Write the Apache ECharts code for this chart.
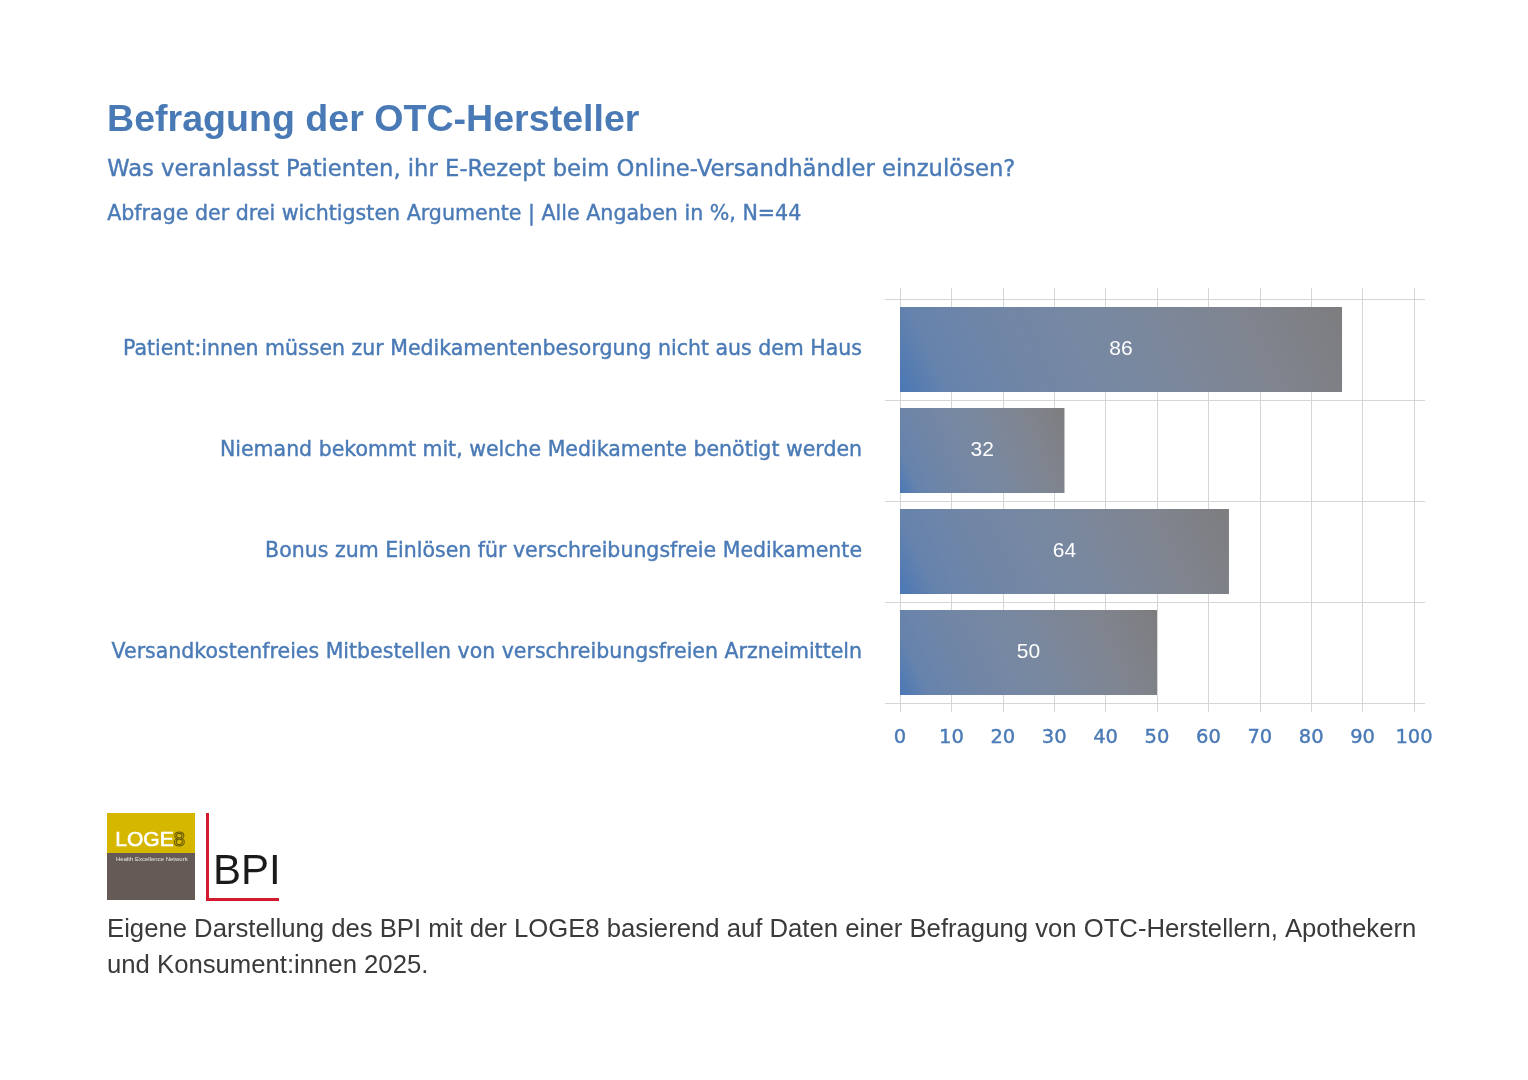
<!DOCTYPE html>
<html>
<head>
<meta charset="utf-8">
<script src="https://cdn.jsdelivr.net/npm/echarts@6/dist/echarts.min.js"></script>
<style>
html,body{margin:0;padding:0;background:#fff;}
#chart{width:1528px;height:1080px;}
</style>
</head>
<body>
<div id="chart"></div>
<script>
const categories = [
  'Patient:innen müssen zur Medikamentenbesorgung nicht aus dem Haus',
  'Niemand bekommt mit, welche Medikamente benötigt werden',
  'Bonus zum Einlösen für verschreibungsfreie Medikamente',
  'Versandkostenfreies Mitbestellen von verschreibungsfreien Arzneimitteln'
];
const values = [86, 32, 64, 50];
const xTicks = [0, 10, 20, 30, 40, 50, 60, 70, 80, 90, 100];
const titleText = 'Befragung der OTC-Hersteller';
const subtitleText = 'Was veranlasst Patienten, ihr E-Rezept beim Online-Versandhändler einzulösen?';
const noteText = 'Abfrage der drei wichtigsten Argumente | Alle Angaben in %, N=44';
const footerLines = [
  'Eigene Darstellung des BPI mit der LOGE8 basierend auf Daten einer Befragung von OTC-Herstellern, Apothekern',
  'und Konsument:innen 2025.'
];

const BLUE = '#4a7ab6';
const FONT = '"Liberation Sans", Arial, Helvetica, sans-serif';
const FONT2 = '"DejaVu Sans", "Liberation Sans", sans-serif';
const BAR_H = 85;
const GRAD_ANGLE = 25 * Math.PI / 180;

const chart = echarts.init(document.getElementById('chart'));

const stops = [
  { offset: 0, color: '#4a78b5' },
  { offset: 0.1, color: '#6683ad' },
  { offset: 0.27, color: '#7186a6' },
  { offset: 0.5, color: '#7888a0' },
  { offset: 0.8, color: '#80848e' },
  { offset: 1, color: '#7d7d7f' }
];

chart.setOption({
  backgroundColor: '#ffffff',
  animation: false,
  grid: [
    { left: 900, right: 114, top: 288, bottom: 368 },
    { left: 885, right: 103, top: 299, bottom: 377 },
    { left: 900, right: 114, top: 299, bottom: 377 }
  ],
  xAxis: [
    {
      gridIndex: 0, type: 'value', min: xTicks[0], max: xTicks[xTicks.length - 1], interval: 10,
      axisLine: { show: false }, axisTick: { show: false },
      splitLine: { show: true, lineStyle: { color: '#d6d6d6', width: 1 } },
      axisLabel: { color: BLUE, fontSize: 19.5, fontFamily: FONT2, margin: 16,
        textBorderColor: BLUE, textBorderWidth: 0.4 }
    },
    { gridIndex: 1, type: 'value', min: 0, max: 100, show: false },
    { gridIndex: 2, type: 'value', min: 0, max: 100, show: false }
  ],
  yAxis: [
    { gridIndex: 0, type: 'category', data: categories, show: false },
    {
      gridIndex: 1, type: 'category', data: categories, inverse: true,
      axisLine: { show: false }, axisTick: { show: false },
      splitLine: { show: true, lineStyle: { color: '#d6d6d6', width: 1 } },
      axisLabel: { color: BLUE, fontSize: 20.5, fontFamily: FONT2, margin: 23,
        textBorderColor: BLUE, textBorderWidth: 0.4 }
    },
    { gridIndex: 2, type: 'category', data: categories, inverse: true, show: false }
  ],
  series: [
    {
      type: 'bar', xAxisIndex: 2, yAxisIndex: 2, data: values,
      barWidth: BAR_H,
      itemStyle: { color: '#6f86a8' },
      label: { show: true, position: 'inside', color: '#ffffff', fontSize: 21, fontFamily: FONT }
    }
  ],
  graphic: [
    { type: 'text', left: 107, top: 102, style: { text: titleText, fill: BLUE, font: 'bold 37.6px ' + FONT } },
    { type: 'text', left: 107, top: 158, style: { text: subtitleText, fill: BLUE, font: '22.7px ' + FONT2, stroke: BLUE, lineWidth: 0.4 } },
    { type: 'text', left: 107, top: 204, style: { text: noteText, fill: BLUE, font: '20.6px ' + FONT2, stroke: BLUE, lineWidth: 0.4 } },
    { type: 'text', left: 107, top: 917, style: { text: footerLines[0], fill: '#3a3a3a', font: '25.7px ' + FONT } },
    { type: 'text', left: 107, top: 953, style: { text: footerLines[1], fill: '#3a3a3a', font: '25.7px ' + FONT } },
    // LOGE8 logo
    { type: 'rect', shape: { x: 107, y: 813, width: 88, height: 40 }, style: { fill: '#d6b700' } },
    { type: 'rect', shape: { x: 107, y: 853, width: 88, height: 47 }, style: { fill: '#655a55' } },
    { type: 'text', left: 115, top: 829, style: { text: 'LOGE', fill: '#ffffff', font: '21px ' + FONT, lineWidth: 0.6, stroke: '#ffffff' } },
    { type: 'text', left: 173, top: 829, style: { text: '8', fill: 'rgba(0,0,0,0)', font: '21px ' + FONT, stroke: '#6b5c00', lineWidth: 1.1 } },
    { type: 'text', left: 116, top: 856, style: { text: 'Health Excellence Network', fill: '#e8e8e8', font: '6px ' + FONT } },
    // BPI logo
    { type: 'rect', shape: { x: 206, y: 813, width: 3, height: 88 }, style: { fill: '#d3192e' } },
    { type: 'rect', shape: { x: 206, y: 898, width: 73, height: 3 }, style: { fill: '#d3192e' } },
    { type: 'text', left: 213, top: 851, style: { text: 'BPI', fill: '#1a1a1a', font: '42px ' + FONT } }
  ]
});

// per-bar diagonal gradient at a fixed angle in pixel space
const x0 = chart.convertToPixel({ xAxisIndex: 2 }, 0);
const coloredData = values.map(function (v) {
  const w = Math.max(1, chart.convertToPixel({ xAxisIndex: 2 }, v) - x0);
  const h = BAR_H;
  const L = w * Math.cos(GRAD_ANGLE) + h * Math.sin(GRAD_ANGLE);
  const x2 = L * Math.cos(GRAD_ANGLE) / w;
  const y2 = 1 - L * Math.sin(GRAD_ANGLE) / h;
  return {
    value: v,
    itemStyle: { color: new echarts.graphic.LinearGradient(0, 1, x2, y2, stops) }
  };
});
chart.setOption({ series: [{ data: coloredData }] });
</script>
</body>
</html>
